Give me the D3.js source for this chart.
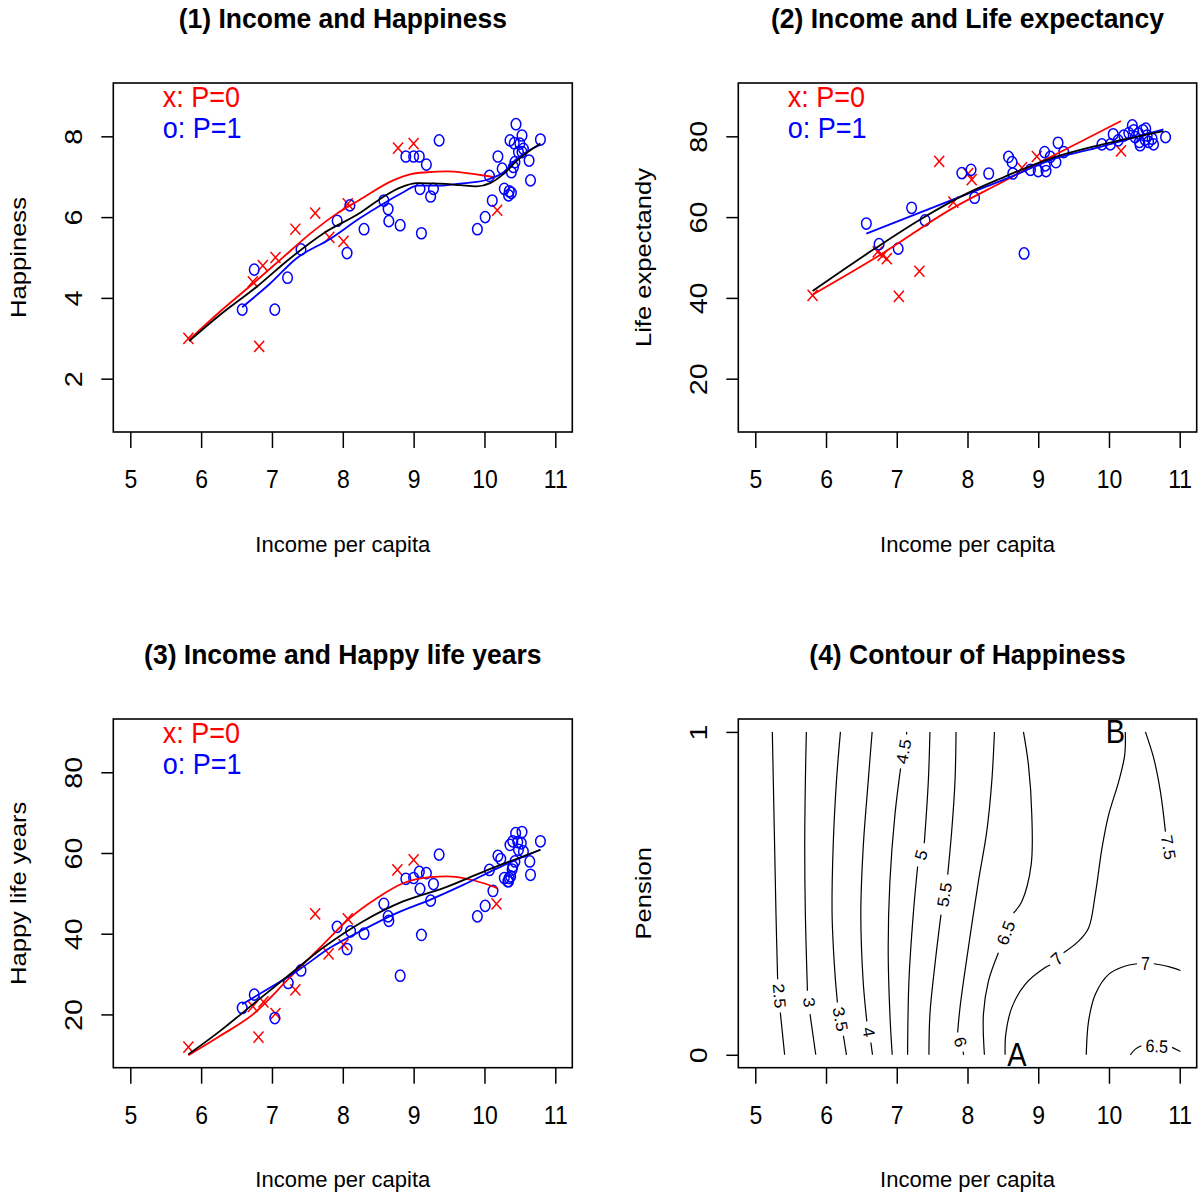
<!DOCTYPE html>
<html>
<head>
<meta charset="utf-8">
<script src="https://cdn.jsdelivr.net/npm/d3@7"></script>
<style>
  body { margin: 0; background: #fff; }
  svg { display: block; }
  text { font-family: "Liberation Sans", Arial, Helvetica, sans-serif; }
</style>
</head>
<body>
<script>
// Income, happiness, life expectancy and pension: four panels

var width = 1201;
var height = 1196;

// tick values
var incomeTicks = [5, 6, 7, 8, 9, 10, 11];
var happyTicks = [2, 4, 6, 8];
var lifeTicks = [20, 40, 60, 80];
var hlyTicks = [20, 40, 60, 80];
var pensionTicks = [0, 1];

// (1) income vs happiness, P=0 (x) and P=1 (o)
var happyP0 = [[5.82,3.0],[6.82,2.8],[6.73,4.4],[6.87,4.8],[7.05,5.0],[7.33,5.7],[7.61,6.1],[7.81,5.5],
  [8.01,5.4],[8.07,6.33],[8.78,7.71],[9.0,7.82],[10.18,6.17]];
var happyP1 = [[6.58,3.71],[7.04,3.71],[6.75,4.70],[7.22,4.50],[7.41,5.20],[7.92,5.91],[8.06,5.11],[8.10,6.29],
  [8.30,5.70],[8.58,6.41],[8.64,6.20],[8.65,5.90],[8.81,5.80],[8.89,7.50],[9.00,7.50],[9.08,7.50],[9.18,7.30],
  [9.09,6.70],[9.28,6.70],[9.24,6.51],[9.11,5.60],[9.36,7.90],[9.90,5.70],[10.01,6.00],[10.11,6.41],[10.07,7.02],
  [10.19,7.50],[10.25,7.20],[10.28,6.70],[10.35,6.64],[10.34,6.54],[10.38,6.60],[10.36,7.90],[10.42,7.83],
  [10.445,8.30],[10.53,8.02],[10.50,7.82],[10.55,7.69],[10.48,7.61],[10.53,7.61],[10.43,7.36],[10.41,7.24],
  [10.38,7.11],[10.63,7.40],[10.65,6.91],[10.79,7.92]];
var happyFitP0 = [[5.83,2.96],[6.26,3.65],[6.73,4.35],[7.16,5.01],[7.54,5.59],[7.91,6.08],[8.24,6.43],[8.71,6.91],
  [8.95,7.06],[9.19,7.11],[9.47,7.13],[9.75,7.09],[9.99,7.03],[10.15,6.98]];
var happyFitP1 = [[6.58,3.77],[6.97,4.35],[7.34,4.97],[7.82,5.46],[8.24,5.97],[8.57,6.33],[8.86,6.62],[9.05,6.78],
  [9.37,6.78],[9.66,6.83],[9.89,6.87],[10.08,6.95],[10.27,7.11],[10.46,7.45],[10.79,7.79]];
var happyFitAll = [[5.83,2.93],[6.26,3.57],[6.78,4.27],[7.25,4.97],[7.72,5.59],[8.24,6.10],[8.57,6.50],[8.81,6.73],
  [9.05,6.84],[9.37,6.83],[9.66,6.79],[9.89,6.76],[10.08,6.84],[10.27,7.07],[10.46,7.40],[10.79,7.82]];

// (2) income vs life expectancy
var lifeP0 = [[5.81,40.6],[6.73,51.4],[6.80,50.5],[6.86,49.7],[7.03,40.4],[7.32,46.6],[7.60,73.8],[7.80,63.7],
  [8.01,70.8],[8.06,69.3],[8.77,72.2],[8.98,75.0],[10.17,76.4]];
var lifeP1 = [[6.57,58.4],[6.75,53.3],[7.02,52.2],[7.21,62.3],[7.40,59.2],[7.92,70.9],[8.05,71.7],[8.10,64.8],
  [8.30,70.8],[8.58,74.9],[8.63,73.6],[8.64,70.8],[8.80,51.0],[8.89,71.7],[9.00,71.4],[9.09,76.1],[9.11,71.4],
  [9.17,74.9],[9.10,72.8],[9.25,73.6],[9.28,78.4],[9.36,76.1],[9.90,78.0],[10.02,78.0],[10.06,80.5],[10.13,79.0],
  [10.21,80.2],[10.28,80.8],[10.33,82.7],[10.35,81.5],[10.37,79.8],[10.43,78.6],[10.42,80.7],[10.48,81.5],
  [10.52,81.9],[10.54,80.2],[10.44,77.8],[10.56,78.6],[10.61,79.4],[10.63,78.0],[10.51,79.2],[10.80,79.8]];
var lifeFitP0 = [[5.81,40.8],[6.78,50.8],[7.78,62.1],[8.46,68.4],[9.03,73.6],[9.59,78.6],[10.17,83.8]];
var lifeFitP1 = [[6.57,55.9],[8.01,65.8],[8.63,70.1],[9.17,74.1],[9.88,77.4],[10.77,81.7]];
var lifeFitAll = [[5.81,41.7],[6.69,52.2],[7.35,59.6],[8.01,66.0],[8.46,69.5],[9.17,74.5],[9.88,77.9],[10.77,81.3]];

// (3) income vs happy life years
var hlyP0 = [[5.82,11.9],[6.81,14.4],[6.73,22.0],[6.88,23.1],[7.05,20.2],[7.33,26.1],[7.61,44.9],[7.80,35.0],
  [8.01,37.3],[8.07,43.7],[8.77,55.8],[9.0,58.3],[10.17,47.4]];
var hlyP1 = [[6.58,21.6],[6.75,24.9],[7.04,19.1],[7.23,27.8],[7.41,30.9],[7.92,41.7],[8.06,36.2],[8.11,40.6],
  [8.30,40.0],[8.58,47.4],[8.64,44.3],[8.65,43.2],[8.81,29.6],[8.89,53.6],[9.00,53.8],[9.08,55.3],[9.18,55.0],
  [9.09,51.1],[9.28,52.3],[9.24,48.2],[9.11,39.7],[9.36,59.6],[9.90,44.3],[10.01,46.9],[10.12,50.6],[10.07,55.8],
  [10.19,59.3],[10.23,58.5],[10.28,53.8],[10.33,53.0],[10.35,53.8],[10.37,54.2],[10.34,53.0],[10.36,62.0],
  [10.40,62.9],[10.44,64.9],[10.53,65.2],[10.47,62.7],[10.52,62.4],[10.55,60.4],[10.48,60.8],[10.43,57.9],
  [10.40,56.7],[10.39,55.9],[10.64,57.9],[10.65,54.6],[10.79,62.9]];
var hlyFitP0 = [[5.82,9.9],[6.26,14.6],[6.73,20.0],[7.25,29.1],[7.72,37.3],[8.10,43.9],[8.48,48.8],[8.85,52.5],
  [9.23,54.0],[9.47,54.2],[9.75,53.6],[9.99,52.5],[10.18,51.3]];
var hlyFitP1 = [[6.58,22.5],[6.97,26.6],[7.35,30.7],[7.82,36.5],[8.29,41.0],[8.76,45.1],[9.23,48.4],[9.70,52.1],
  [10.18,56.2],[10.79,60.8]];
var hlyFitAll = [[5.82,10.1],[6.26,15.8],[6.73,22.5],[7.25,29.9],[7.72,36.5],[8.29,43.1],[8.85,48.0],[9.42,51.3],
  [9.99,55.4],[10.79,60.8]];

// (4) contour lines of happiness over (income, pension); each level split where its label sits
var contourLevels = ["2.5", "3", "3.5", "4", "4.5", "5", "5.5", "6", "6.5", "7", "7", "7.5", "6.5"];
var contourLines = [
  [[[5.241,1],[5.255,0.846],[5.274,0.640],[5.293,0.434],[5.316,0.234]], [[5.354,0.131],[5.415,0]]],
  [[[5.722,1],[5.708,0.846],[5.699,0.640],[5.708,0.434],[5.737,0.198]], [[5.774,0.126],[5.855,0]]],
  [[[6.204,1],[6.147,0.846],[6.100,0.640],[6.086,0.434],[6.124,0.259],[6.161,0.162]], [[6.246,0.059],[6.289,0]]],
  [[[6.652,1],[6.596,0.846],[6.525,0.640],[6.492,0.434],[6.525,0.228],[6.577,0.103]], [[6.634,0.038],[6.657,0]]],
  [[[7.139,1],[7.139,0.992]], [[7.054,0.887],[6.974,0.743],[6.903,0.537],[6.879,0.331],[6.903,0.126],[6.936,0]]],
  [[[7.469,1],[7.446,0.846],[7.389,0.655]], [[7.295,0.583],[7.233,0.434],[7.172,0.228],[7.153,0]]],
  [[[7.838,1],[7.823,0.846],[7.776,0.691],[7.720,0.558]], [[7.625,0.434],[7.540,0.280],[7.469,0.126],[7.455,0]]],
  [[[8.381,1],[8.343,0.846],[8.272,0.691],[8.154,0.537],[8.012,0.331],[7.894,0.146],[7.861,0.069]], [[7.937,0.010],[7.946,0]]],
  [[[8.791,1],[8.862,0.897],[8.909,0.743],[8.900,0.589],[8.768,0.475],[8.650,0.439]], [[8.437,0.316],[8.296,0.228],[8.225,0.126],[8.239,0]]],
  [[[8.532,0],[8.541,0.064],[8.626,0.146],[8.815,0.218],[9.098,0.270],[9.169,0.278]],
   [[9.358,0.316],[9.570,0.352],[9.712,0.393],[9.806,0.496],[9.901,0.640],[9.995,0.743],[10.137,0.846],[10.222,0.928],[10.231,1]]],
  [[[9.679,0],[9.712,0.105],[9.806,0.187],[9.995,0.249],[10.231,0.275],[10.397,0.282]], [[10.633,0.282],[10.845,0.273],[11.010,0.261]]],
  [[[10.515,1],[10.633,0.918],[10.727,0.815],[10.798,0.691]], [[10.869,0.594]]],
  [[[10.302,0],[10.373,0.0175],[10.458,0.028]], [[10.892,0.023],[11.010,0.010]]]
];
var pointLetters = ["A", "B"];
var letterSpots = [[8.70, 0], [10.09, 1]];

var svg = d3.select("body").append("svg")
  .attr("width", width)
  .attr("height", height);
svg.append("rect").attr("width", width).attr("height", height).attr("fill", "#fff");

// R pads axis limits by 4%
function rlim(lim) {
  var d = (lim[1] - lim[0]) * 0.04;
  return [lim[0] - d, lim[1] + d];
}

// the reference stretches text vertically a little
var stretch = 1.12;
var vStretch = 1.19;

function makePanel(box, ylim, yTicks, title, yLab) {
  var x = d3.scaleLinear().domain(rlim([5, 11])).range([box.x0, box.x1]);
  var y = d3.scaleLinear().domain(rlim(ylim)).range([box.y1, box.y0]);
  var g = svg.append("g");

  g.append("text")
    .attr("transform", "translate(" + ((box.x0 + box.x1) / 2) + "," + (box.y0 - 55.5) + ") scale(1,1.05)")
    .attr("text-anchor", "middle")
    .attr("font-weight", "bold")
    .attr("font-size", "26.5px")
    .text(title);

  // x axis
  var xa = g.append("g")
    .attr("transform", "translate(0," + box.y1 + ")")
    .call(d3.axisBottom(x).tickValues(incomeTicks).tickSize(16).tickFormat(d3.format("d")));
  xa.select(".domain").remove();
  xa.selectAll("line").attr("stroke", "#000").attr("stroke-width", 1.5);
  xa.selectAll("text")
    .attr("y", null)
    .attr("dy", null)
    .attr("transform", "translate(0,56) scale(1," + stretch + ")")
    .attr("font-size", "23px")
    .attr("fill", "#000");

  // y axis, labels turned like R does
  var ya = g.append("g")
    .attr("transform", "translate(" + box.x0 + ",0)")
    .call(d3.axisLeft(y).tickValues(yTicks).tickSize(12).tickFormat(d3.format("d")));
  ya.select(".domain").remove();
  ya.selectAll("line").attr("stroke", "#000").attr("stroke-width", 1.5);
  ya.selectAll("text")
    .attr("x", null)
    .attr("dy", null)
    .attr("text-anchor", "middle")
    .attr("transform", "translate(-31.3,0) rotate(-90) scale(1.25,1)")
    .attr("font-size", "23px")
    .attr("fill", "#000");

  g.append("text")
    .attr("x", (box.x0 + box.x1) / 2)
    .attr("y", box.y1 + 119.7)
    .attr("text-anchor", "middle")
    .attr("font-size", "22px")
    .text("Income per capita");

  g.append("text")
    .attr("transform", "translate(" + (box.x0 - 87.3) + "," + ((box.y0 + box.y1) / 2) + ") rotate(-90) scale(" + vStretch + ",1)")
    .attr("text-anchor", "middle")
    .attr("font-size", "21.5px")
    .text(yLab);

  return { g: g, x: x, y: y, box: box };
}

function drawBox(p) {
  p.g.append("rect")
    .attr("x", p.box.x0)
    .attr("y", p.box.y0)
    .attr("width", p.box.x1 - p.box.x0)
    .attr("height", p.box.y1 - p.box.y0)
    .attr("fill", "none")
    .attr("stroke", "#000")
    .attr("stroke-width", 1.6);
}

function drawScatter(p, pts0, pts1, fit0, fit1, fitAll) {
  var line = d3.line()
    .x(function(d) { return p.x(d[0]); })
    .y(function(d) { return p.y(d[1]); })
    .curve(d3.curveMonotoneX);

  p.g.selectAll(null).data(pts0).enter().append("path")
    .attr("transform", function(d) { return "translate(" + p.x(d[0]) + "," + p.y(d[1]) + ")"; })
    .attr("d", "M-5,-5.6L5,5.6M-5,5.6L5,-5.6")
    .attr("stroke", "#ff0000")
    .attr("stroke-width", 1.5)
    .attr("fill", "none");

  p.g.selectAll(null).data(pts1).enter().append("ellipse")
    .attr("cx", function(d) { return p.x(d[0]); })
    .attr("cy", function(d) { return p.y(d[1]); })
    .attr("rx", 4.8)
    .attr("ry", 5.6)
    .attr("stroke", "#0000ff")
    .attr("stroke-width", 1.5)
    .attr("fill", "none");

  [[fit0, "#ff0000"], [fit1, "#0000ff"], [fitAll, "#000"]].forEach(function(f) {
    p.g.append("path")
      .attr("d", line(f[0]))
      .attr("fill", "none")
      .attr("stroke", f[1])
      .attr("stroke-width", 1.8);
  });

  // legend
  p.g.append("text")
    .attr("transform", "translate(" + (p.box.x0 + 49.4) + "," + (p.box.y0 + 24) + ") scale(1,1.08)")
    .attr("font-size", "27px")
    .attr("fill", "#ff0000")
    .text("x: P=0");
  p.g.append("text")
    .attr("transform", "translate(" + (p.box.x0 + 49.4) + "," + (p.box.y0 + 55.3) + ") scale(1,1.08)")
    .attr("font-size", "27px")
    .attr("fill", "#0000ff")
    .text("o: P=1");

  drawBox(p);
}

var p1 = makePanel({ x0: 113.3, x1: 572.3, y0: 83, y1: 432 }, [1, 9], happyTicks,
  "(1) Income and Happiness", "Happiness");
drawScatter(p1, happyP0, happyP1, happyFitP0, happyFitP1, happyFitAll);

var p2 = makePanel({ x0: 738.3, x1: 1196.7, y0: 83, y1: 432 }, [10, 90], lifeTicks,
  "(2) Income and Life expectancy", "Life expectandy");
drawScatter(p2, lifeP0, lifeP1, lifeFitP0, lifeFitP1, lifeFitAll);

var p3 = makePanel({ x0: 113.3, x1: 572.3, y0: 719, y1: 1067.7 }, [10, 90], hlyTicks,
  "(3) Income and Happy life years", "Happy life years");
drawScatter(p3, hlyP0, hlyP1, hlyFitP0, hlyFitP1, hlyFitAll);

// contour panel
var p4 = makePanel({ x0: 738.3, x1: 1196.7, y0: 719, y1: 1067.7 }, [0, 1], pensionTicks,
  "(4) Contour of Happiness", "Pension");

var cline = d3.line()
  .x(function(d) { return p4.x(d[0]); })
  .y(function(d) { return p4.y(d[1]); })
  .curve(d3.curveCatmullRom.alpha(0.5));

contourLines.forEach(function(segs, i) {
  segs.forEach(function(s) {
    if (s.length < 2) return;
    p4.g.append("path")
      .attr("d", cline(s))
      .attr("fill", "none")
      .attr("stroke", "#000")
      .attr("stroke-width", 1.2);
  });
  // label sits in the gap, turned along the line
  var a = segs[0][segs[0].length - 1], b = segs[1][0];
  var ax = p4.x(a[0]), ay = p4.y(a[1]), bx = p4.x(b[0]), by = p4.y(b[1]);
  var ang = Math.atan2(by - ay, bx - ax) * 180 / Math.PI;
  if (ang > 90) ang -= 180;
  if (ang <= -90) ang += 180;
  // stretch grows with how upright the label is
  var sx = 1 + (stretch - 1) * Math.abs(Math.sin(ang * Math.PI / 180));
  var sy = 1 + (stretch - 1) * Math.abs(Math.cos(ang * Math.PI / 180));
  p4.g.append("text")
    .attr("transform", "translate(" + ((ax + bx) / 2) + "," + ((ay + by) / 2) + ") rotate(" + ang + ") scale(" + sx + "," + sy + ")")
    .attr("text-anchor", "middle")
    .attr("dominant-baseline", "central")
    .attr("font-size", "16px")
    .text(contourLevels[i]);
});

p4.g.selectAll(null).data(pointLetters).enter().append("text")
  .attr("transform", function(d, i) {
    return "translate(" + p4.x(letterSpots[i][0]) + "," + p4.y(letterSpots[i][1]) + ") scale(1," + stretch + ")";
  })
  .attr("text-anchor", "middle")
  .attr("dominant-baseline", "central")
  .attr("font-size", "29px")
  .text(function(d) { return d; });

drawBox(p4);
</script>
</body>
</html>
